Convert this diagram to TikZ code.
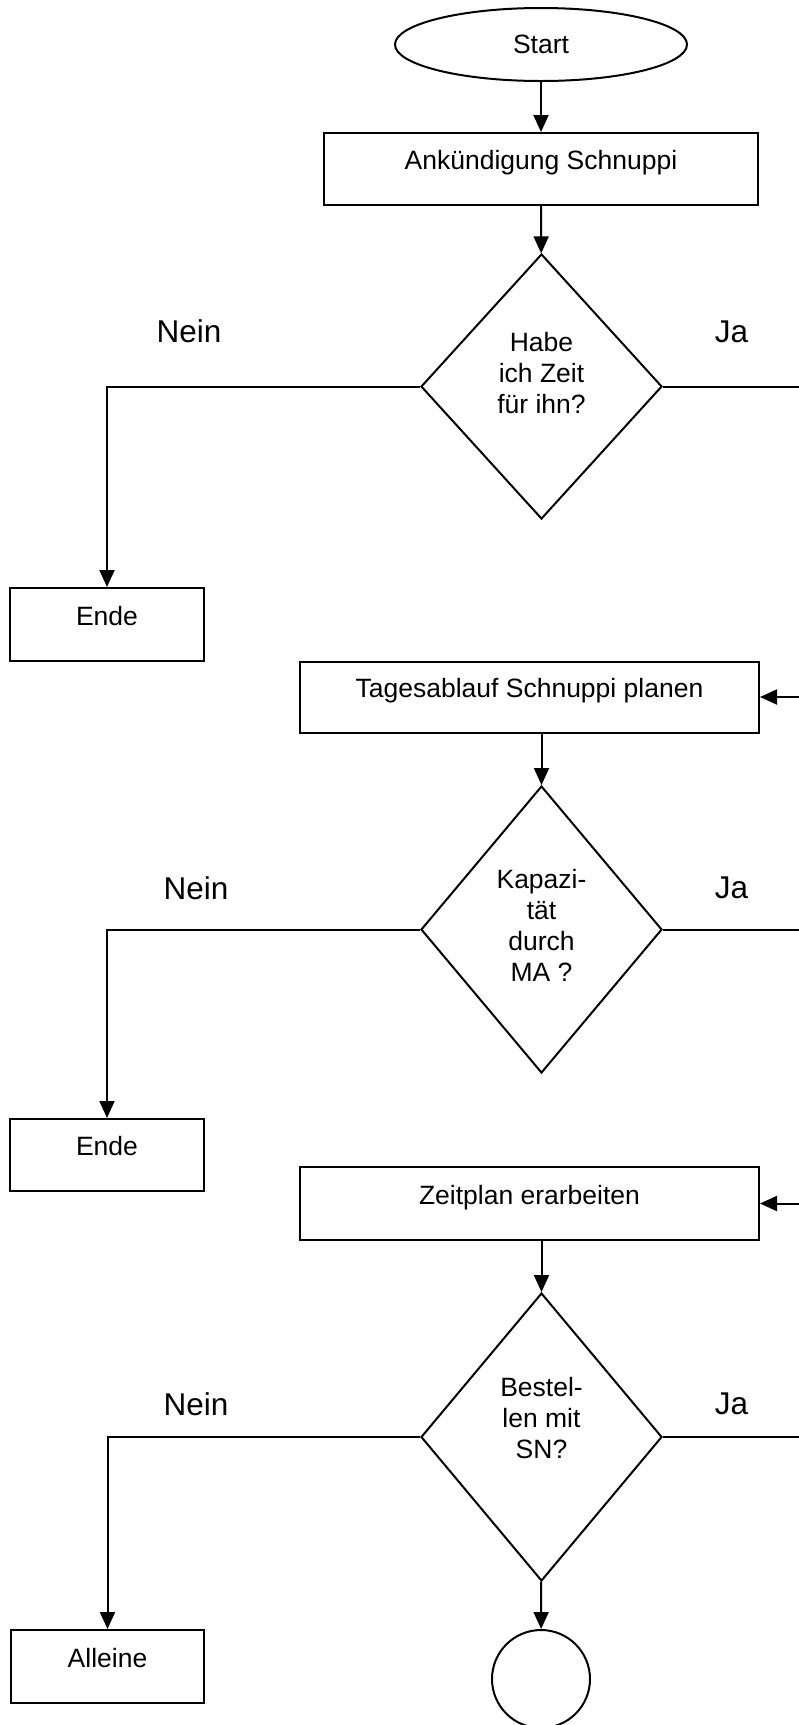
\documentclass[tikz,border=0pt]{standalone}
\usepackage{fontspec}
\setmainfont{Liberation Sans}
\usetikzlibrary{shapes,arrows.meta}

\begin{document}
\begin{tikzpicture}[x=1pt,y=-1pt,line width=2pt]
        \tikzstyle{box}=[rectangle,draw,inner sep=0pt,font=\fontsize{26.5}{31}\selectfont,text height=19pt,text depth=18pt]
        \tikzstyle{frage}=[diamond,draw,inner sep=0pt,minimum width=241pt]
        \tikzstyle{fragetext}=[align=center,font=\fontsize{26.5}{31}\selectfont]
        \tikzstyle{antwort}=[font=\fontsize{31.5}{36}\selectfont]
        \tikzstyle{pfeil}=[-{Triangle[length=17pt,width=15pt]}]
        \useasboundingbox (0,0) rectangle (799,1725);
        \clip (0,0) rectangle (799,1725);
        \fill[white] (0,0) rectangle (799,1725);

        \node[ellipse,draw,minimum width=292pt,minimum height=73pt,font=\fontsize{26.5}{31}\selectfont] (start) at (541,44.5) {Start};
        \node[box,minimum width=434pt,minimum height=72pt] (ankuend) at (541,169) {Ankündigung Schnuppi};
        \node[frage,minimum height=265pt] (d1) at (541.5,386.5) {};
        \node[fragetext,yshift=13pt] (d1txt) at (d1) {Habe\\ich Zeit\\für ihn?};
        \node[box,minimum width=194pt,minimum height=73pt] (ende1) at (107,624.5) {Ende};
        \node[box,minimum width=459pt,minimum height=71pt] (plan) at (529.5,697) {Tagesablauf Schnuppi planen};
        \node[frage,minimum height=287pt] (d2) at (541.5,929.5) {};
        \node[fragetext,yshift=4pt] (d2txt) at (d2) {Kapazi-\\tät\\durch\\MA ?};
        \node[box,minimum width=194pt,minimum height=72pt] (ende2) at (107,1155) {Ende};
        \node[box,minimum width=459pt,minimum height=73pt] (zeit) at (529.5,1203.5) {Zeitplan erarbeiten};
        \node[frage,minimum height=288pt] (d3) at (541.5,1437) {};
        \node[fragetext,yshift=19pt] (d3txt) at (d3) {Bestel-\\len mit\\SN?};
        \node[box,minimum width=193pt,minimum height=73pt] (allein) at (107.5,1666.5) {Alleine};
        \node[circle,draw,minimum size=98pt] (kreis) at (541,1679) {};
        \coordinate (ja3end) at (830,1437);

        % Antworten
        \node[antwort] (nein1) at (189,331.5) {Nein};
        \node[antwort] (ja1) at (731.5,331.5) {Ja};
        \node[antwort] (nein2) at (196,888) {Nein};
        \node[antwort] (ja2) at (731.5,888) {Ja};
        \node[antwort] (nein3) at (196,1404) {Nein};
        \node[antwort] (ja3) at (731.5,1404) {Ja};

        \draw[pfeil] (start) -- (ankuend);
        \draw[pfeil] (ankuend) -- (d1);
        \draw[pfeil] (d1.west) -| (ende1.north);
        \draw[pfeil] (d1.east) -- ++(180,0) |- (plan.east);
        \draw[pfeil] (plan.south -| d2.north) -- (d2.north);
        \draw[pfeil] (d2.west) -| (ende2.north);
        \draw[pfeil] (d2.east) -- ++(180,0) |- (zeit.east);
        \draw[pfeil] (zeit.south -| d3.north) -- (d3.north);
        \draw[pfeil] (d3.west) -| (allein.north);
        \draw (d3.east) -- (ja3end);
        \draw[pfeil] (d3) -- (kreis);
\end{tikzpicture}
\end{document}
